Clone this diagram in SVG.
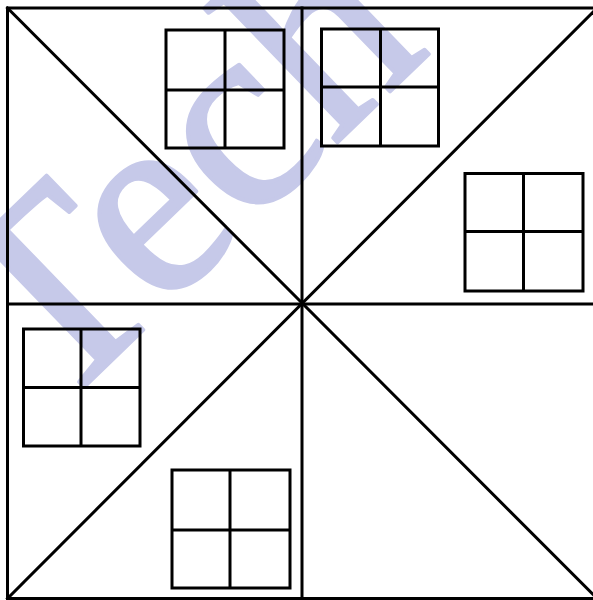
<svg xmlns="http://www.w3.org/2000/svg" width="593" height="600" viewBox="0 0 593 600">
<style>
.ln{stroke:#000;stroke-width:3;fill:none;stroke-linecap:square}
.g rect,.g line{stroke:#000;stroke-width:3;fill:none}
.wm{font-family:"Liberation Serif","Times New Roman",serif;fill:#c6c9e9;stroke:#c6c9e9;stroke-width:4;stroke-linejoin:round}
</style>
<rect x="0" y="0" width="593" height="600" fill="#fff"/>
<g id="watermark"><text class="wm" font-size="272" transform="translate(54,416) rotate(-44)">Tech</text></g>
<g id="connectors">
<rect class="ln" x="7.5" y="8" width="589.5" height="590.5"/>
<line class="ln" x1="7.5" y1="8" x2="597" y2="598.5"/>
<line class="ln" x1="597" y1="8" x2="7.5" y2="598.5"/>
<line class="ln" x1="302" y1="8" x2="302" y2="598.5"/>
<line class="ln" x1="7.5" y1="304" x2="597" y2="304"/>
</g>
<g id="grid1" class="g"><rect x="166" y="30" width="118" height="118"/><line x1="225" y1="30" x2="225" y2="148"/><line x1="166" y1="90" x2="284" y2="90"/></g>
<g id="grid2" class="g"><rect x="321.5" y="29" width="117" height="117"/><line x1="380.5" y1="29" x2="380.5" y2="146"/><line x1="321.5" y1="87" x2="438.5" y2="87"/></g>
<g id="grid3" class="g"><rect x="465" y="173.5" width="118" height="117.5"/><line x1="523.5" y1="173.5" x2="523.5" y2="291"/><line x1="465" y1="231.5" x2="583" y2="231.5"/></g>
<g id="grid4" class="g"><rect x="23.5" y="329" width="116.5" height="117"/><line x1="81" y1="329" x2="81" y2="446"/><line x1="23.5" y1="387.5" x2="140" y2="387.5"/></g>
<g id="grid5" class="g"><rect x="172" y="470" width="118" height="118"/><line x1="230" y1="470" x2="230" y2="588"/><line x1="172" y1="530" x2="290" y2="530"/></g>
</svg>
